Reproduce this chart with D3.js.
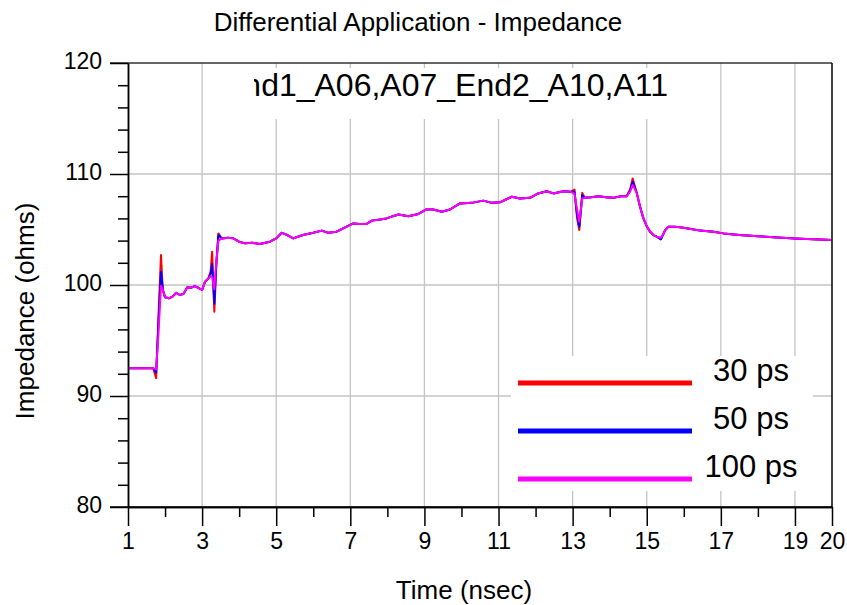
<!DOCTYPE html>
<html>
<head>
<meta charset="utf-8">
<script src="https://cdn.jsdelivr.net/npm/d3@7/dist/d3.min.js"></script>
<style>
  html, body { margin: 0; padding: 0; background: #fff; }
  svg { display: block; font-family: "Liberation Sans", Arial, sans-serif; }
</style>
</head>
<body>
<svg id="chart" width="847" height="605"></svg>
<script>
// Time samples (nsec) shared by all three rise-time traces
const timeNs = [1.0, 1.68, 1.76, 1.82, 1.89, 1.94, 2.0, 2.1, 2.2, 2.3, 2.4, 2.5, 2.6, 2.7, 2.8, 2.9, 3.0, 3.08, 3.17, 3.23, 3.27, 3.33, 3.38, 3.44, 3.53, 3.7, 3.84, 4.0, 4.16, 4.35, 4.56, 4.83, 5.0, 5.15, 5.3, 5.46, 5.72, 6.0, 6.23, 6.41, 6.63, 6.9, 7.08, 7.25, 7.44, 7.58, 7.8, 7.98, 8.15, 8.3, 8.57, 8.84, 9.04, 9.24, 9.47, 9.69, 9.96, 10.28, 10.59, 10.82, 11.04, 11.2, 11.36, 11.58, 11.85, 12.07, 12.3, 12.48, 12.75, 12.95, 13.05, 13.12, 13.18, 13.26, 13.33, 13.5, 13.7, 13.9, 14.1, 14.3, 14.46, 14.55, 14.62, 14.73, 14.82, 14.91, 15.0, 15.09, 15.18, 15.27, 15.38, 15.45, 15.5, 15.58, 15.75, 15.9, 16.2, 16.44, 16.8, 17.07, 17.5, 18.0, 18.42, 19.0, 19.32, 20.0];

// Impedance (ohms), 30 ps rise time
const z30ps = [92.5, 92.5, 91.6, 97.0, 102.7, 99.5, 98.9, 98.8, 98.95, 99.3, 99.1, 99.2, 99.8, 99.75, 99.9, 99.75, 99.55, 100.3, 100.6, 101.2, 103.0, 97.6, 101.5, 104.65, 104.2, 104.25, 104.2, 103.9, 103.75, 103.8, 103.7, 103.9, 104.2, 104.7, 104.5, 104.2, 104.5, 104.7, 104.9, 104.7, 104.8, 105.25, 105.55, 105.5, 105.5, 105.8, 105.9, 106.0, 106.2, 106.35, 106.2, 106.4, 106.8, 106.8, 106.6, 106.8, 107.35, 107.4, 107.6, 107.4, 107.45, 107.7, 107.95, 107.8, 107.85, 108.25, 108.45, 108.25, 108.45, 108.4, 108.6, 106.0, 104.95, 108.3, 107.85, 107.9, 108.0, 107.9, 107.85, 108.0, 108.0, 108.6, 109.6, 108.3, 107.05, 106.0, 105.3, 104.8, 104.5, 104.35, 104.15, 104.6, 104.95, 105.25, 105.25, 105.2, 105.05, 104.9, 104.8, 104.65, 104.5, 104.4, 104.3, 104.2, 104.15, 104.05];

// Impedance (ohms), 50 ps rise time
const z50ps = [92.5, 92.5, 92.1, 96.5, 101.2, 99.6, 98.9, 98.8, 98.95, 99.3, 99.1, 99.2, 99.8, 99.75, 99.9, 99.75, 99.55, 100.3, 100.6, 101.0, 101.9, 98.3, 101.8, 104.5, 104.2, 104.25, 104.2, 103.9, 103.75, 103.8, 103.7, 103.9, 104.2, 104.7, 104.5, 104.2, 104.5, 104.7, 104.9, 104.7, 104.8, 105.25, 105.55, 105.5, 105.5, 105.8, 105.9, 106.0, 106.2, 106.35, 106.2, 106.4, 106.8, 106.8, 106.6, 106.8, 107.35, 107.4, 107.6, 107.4, 107.45, 107.7, 107.95, 107.8, 107.85, 108.25, 108.45, 108.25, 108.45, 108.4, 108.4, 106.3, 105.25, 108.1, 107.85, 107.9, 108.0, 107.9, 107.85, 108.0, 108.0, 108.5, 109.3, 108.3, 107.05, 106.0, 105.3, 104.8, 104.5, 104.35, 104.1, 104.6, 104.95, 105.25, 105.25, 105.2, 105.05, 104.9, 104.8, 104.65, 104.5, 104.4, 104.3, 104.2, 104.15, 104.05];

// Impedance (ohms), 100 ps rise time
const z100ps = [92.5, 92.5, 92.4, 95.5, 99.9, 99.6, 98.9, 98.8, 98.95, 99.3, 99.1, 99.2, 99.8, 99.75, 99.9, 99.75, 99.55, 100.3, 100.6, 100.8, 100.7, 99.6, 102.0, 104.0, 104.2, 104.25, 104.2, 103.9, 103.75, 103.8, 103.7, 103.9, 104.2, 104.7, 104.5, 104.2, 104.5, 104.7, 104.9, 104.7, 104.8, 105.25, 105.55, 105.5, 105.5, 105.8, 105.9, 106.0, 106.2, 106.35, 106.2, 106.4, 106.8, 106.8, 106.6, 106.8, 107.35, 107.4, 107.6, 107.4, 107.45, 107.7, 107.95, 107.8, 107.85, 108.25, 108.45, 108.25, 108.45, 108.4, 108.2, 106.8, 105.7, 107.8, 107.85, 107.9, 108.0, 107.9, 107.85, 108.0, 108.0, 108.4, 109.0, 108.3, 107.05, 106.0, 105.3, 104.8, 104.5, 104.35, 104.25, 104.6, 104.95, 105.25, 105.25, 105.2, 105.05, 104.9, 104.8, 104.65, 104.5, 104.4, 104.3, 104.2, 104.15, 104.05];

const seriesNames = ["30 ps", "50 ps", "100 ps"];
const seriesColors = ["#ff0000", "#0000ff", "#ff00ff"];

// Axis ticks
const xMajorTicks = [1, 3, 5, 7, 9, 11, 13, 15, 17, 19, 20];
const xMinorTicks = [2, 4, 6, 8, 10, 12, 14, 16, 18];
const xGridTicks = [3, 5, 7, 9, 11, 13, 15, 17, 19];
const yMajorTicks = [80, 90, 100, 110, 120];
const yMinorTicks = [82, 84, 86, 88, 92, 94, 96, 98, 102, 104, 106, 108, 112, 114, 116, 118];
const yGridTicks = [90, 100, 110];

const titleText = "Differential Application - Impedance";
const netText = "End1_A06,A07_End2_A10,A11";
const xLabel = "Time (nsec)";
const yLabel = "Impedance (ohms)";

// ---- layout ----
const plot = { left: 128, right: 832, top: 63, bottom: 507 };
const svg = d3.select("#chart");

const x = d3.scaleLinear().domain([1, 20]).range([plot.left, plot.right]);
const y = d3.scaleLinear().domain([80, 120]).range([plot.bottom, plot.top]);

// gridlines
const grid = svg.append("g").attr("stroke", "#c4c4c4").attr("stroke-width", 1.3);
grid.selectAll("line.vx").data(xGridTicks).join("line")
  .attr("x1", d => x(d)).attr("x2", d => x(d))
  .attr("y1", plot.top).attr("y2", plot.bottom);
grid.selectAll("line.hy").data(yGridTicks).join("line")
  .attr("x1", plot.left).attr("x2", plot.right)
  .attr("y1", d => y(d)).attr("y2", d => y(d));

// traces
svg.append("clipPath").attr("id", "plotClip").append("rect")
  .attr("x", plot.left).attr("y", plot.top)
  .attr("width", plot.right - plot.left).attr("height", plot.bottom - plot.top);

const line = d3.line().x(d => x(d[0])).y(d => y(d[1]));
const seriesValues = [z30ps, z50ps, z100ps];
const traces = svg.append("g").attr("clip-path", "url(#plotClip)");
seriesValues.forEach((vals, i) => {
  traces.append("path")
    .datum(timeNs.map((t, k) => [t, vals[k]]))
    .attr("fill", "none")
    .attr("stroke", seriesColors[i])
    .attr("stroke-width", 2)
    .attr("stroke-linejoin", "round")
    .attr("d", line);
});

// net name box (clipped on the left)
const netBox = { x: 254, y: 68, w: 426, h: 51 };
svg.append("rect").attr("x", netBox.x).attr("y", netBox.y)
  .attr("width", netBox.w).attr("height", netBox.h).attr("fill", "#fff");
svg.append("clipPath").attr("id", "netClip").append("rect")
  .attr("x", netBox.x).attr("y", netBox.y).attr("width", netBox.w).attr("height", netBox.h);
svg.append("text")
  .attr("clip-path", "url(#netClip)")
  .attr("x", 668).attr("y", 96)
  .attr("text-anchor", "end")
  .attr("font-size", 32)
  .attr("fill", "#000")
  .text(netText);

// legend
const legend = svg.append("g");
legend.append("rect").attr("x", 511).attr("y", 356).attr("width", 302).attr("height", 135).attr("fill", "#fff");
const legY = d3.scalePoint().domain(seriesNames).range([383, 479]);
seriesNames.forEach((name, i) => {
  legend.append("line")
    .attr("x1", 518).attr("x2", 692)
    .attr("y1", legY(name)).attr("y2", legY(name))
    .attr("stroke", seriesColors[i]).attr("stroke-width", 5);
  legend.append("text")
    .attr("x", 751).attr("y", legY(name) - 2)
    .attr("text-anchor", "middle")
    .attr("font-size", 31)
    .attr("fill", "#000")
    .text(name);
});

// frame: top and right edges
svg.append("line").attr("x1", 110).attr("x2", plot.right).attr("y1", plot.top).attr("y2", plot.top)
  .attr("stroke", "#333").attr("stroke-width", 1.5);
svg.append("line").attr("x1", plot.right).attr("x2", plot.right).attr("y1", plot.top).attr("y2", plot.bottom)
  .attr("stroke", "#000").attr("stroke-width", 1.5);

// axes
function styleAxis(g) {
  g.selectAll("path, line").attr("stroke", "#000").attr("stroke-width", 1.5);
  g.selectAll("text").attr("fill", "#000").attr("font-size", 23)
    .attr("font-family", "'Liberation Sans', Arial, sans-serif");
}

const yMinor = svg.append("g").attr("transform", `translate(${plot.left},0)`)
  .call(d3.axisLeft(y).tickValues(yMinorTicks).tickSize(10).tickSizeOuter(0).tickFormat(""));
styleAxis(yMinor);
const yMajor = svg.append("g").attr("transform", `translate(${plot.left},0)`)
  .call(d3.axisLeft(y).tickValues(yMajorTicks).tickSize(18).tickSizeOuter(0).tickPadding(8).tickFormat(d3.format("d")));
styleAxis(yMajor);
yMajor.selectAll("text").attr("dy", "0.22em");

const xMinor = svg.append("g").attr("transform", `translate(0,${plot.bottom})`)
  .call(d3.axisBottom(x).tickValues(xMinorTicks).tickSize(10).tickSizeOuter(0).tickFormat(""));
styleAxis(xMinor);
const xMajor = svg.append("g").attr("transform", `translate(0,${plot.bottom})`)
  .call(d3.axisBottom(x).tickValues(xMajorTicks).tickSize(19).tickSizeOuter(0).tickPadding(7).tickFormat(d3.format("d")));
styleAxis(xMajor);
// bottom axis line extends left to meet the 80 tick
svg.append("line").attr("x1", 110).attr("x2", plot.right).attr("y1", plot.bottom).attr("y2", plot.bottom)
  .attr("stroke", "#000").attr("stroke-width", 1.5);

// titles
svg.append("text").attr("x", 418).attr("y", 31).attr("text-anchor", "middle")
  .attr("font-size", 26).attr("fill", "#000").text(titleText);
svg.append("text").attr("x", 464).attr("y", 599).attr("text-anchor", "middle")
  .attr("font-size", 26).attr("fill", "#000").text(xLabel);
svg.append("text").attr("transform", "translate(34,311) rotate(-90)").attr("text-anchor", "middle")
  .attr("font-size", 26).attr("fill", "#000").text(yLabel);
</script>
</body>
</html>
